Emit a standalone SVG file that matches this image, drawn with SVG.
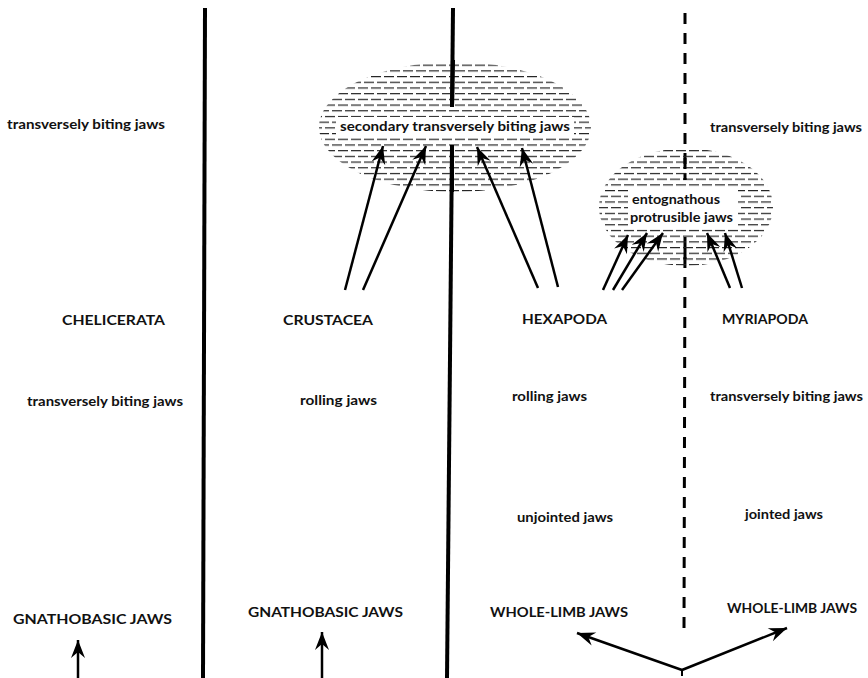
<svg xmlns="http://www.w3.org/2000/svg" width="868" height="678" viewBox="0 0 868 678">
<style>
text{font-family:"Lato","Liberation Sans",sans-serif;font-weight:bold;fill:#111}
.lc{font-size:12.5px}
.uc{font-size:14px}
.wall{stroke:#000;stroke-width:4;fill:none}
.dash{stroke:#000;stroke-width:3;fill:none;stroke-dasharray:11 9}
.arr{stroke:#000;stroke-width:2.5;fill:none;marker-end:url(#ah)}
.hatch{fill:url(#hp)}
.blank{fill:#fff}
</style>
<defs>
<pattern id="hp" patternUnits="userSpaceOnUse" width="26" height="11.4">
<path d="M0 2.5h10M13 2.5h10M0 8.2h4M7 8.2h10M20 8.2h6" stroke="#222" stroke-width="1.3"/>
</pattern>
<marker id="ah" markerUnits="userSpaceOnUse" viewBox="-19 -8 20 16" markerWidth="20" markerHeight="16" refX="0" refY="0" orient="auto">
<path d="M0,0 L-18,-7 L-12,0 L-18,7 z" fill="#000"/>
</marker>
</defs>

<g id="lines">
<path class="wall" d="M205 8 L203 678"/>
<path class="wall" d="M453 8 L452 107"/>
<path class="wall" d="M452 145 L447 678"/>
<path class="dash" d="M685 13 L685 180"/>
<path class="dash" d="M685 237 L684 630"/>
</g>

<g id="ellipse-secondary">
<ellipse class="hatch" cx="455" cy="127" rx="136" ry="65"/>
<rect class="blank" x="336" y="117" width="238" height="20"/>
<path class="wall" d="M453 60 L452 107"/>
<path class="wall" d="M452 145 L452 192"/>
<text class="lc" x="340" y="131" textLength="230" lengthAdjust="spacingAndGlyphs">secondary transversely biting jaws</text>
</g>

<g id="ellipse-entognathous">
<ellipse class="hatch" cx="686" cy="207" rx="87" ry="59"/>
<rect class="blank" x="628" y="189" width="110" height="38"/>
<path class="dash" d="M685 158 L685 180"/>
<path class="dash" d="M685 248 L685 262"/>
<text class="lc" x="632" y="204" textLength="88" lengthAdjust="spacingAndGlyphs">entognathous</text>
<text class="lc" x="630" y="222" textLength="103" lengthAdjust="spacingAndGlyphs">protrusible jaws</text>
</g>

<g id="top-left"><text class="lc" x="7" y="129" textLength="158" lengthAdjust="spacingAndGlyphs">transversely biting jaws</text></g>
<g id="top-right"><text class="lc" x="710" y="132" textLength="152" lengthAdjust="spacingAndGlyphs">transversely biting jaws</text></g>

<g id="chelicerata"><text class="uc" x="62" y="325" textLength="103" lengthAdjust="spacingAndGlyphs">CHELICERATA</text></g>
<g id="crustacea"><text class="uc" x="283" y="325" textLength="90" lengthAdjust="spacingAndGlyphs">CRUSTACEA</text></g>
<g id="hexapoda"><text class="uc" x="522" y="324" textLength="85" lengthAdjust="spacingAndGlyphs">HEXAPODA</text></g>
<g id="myriapoda"><text class="uc" x="722" y="324" textLength="86" lengthAdjust="spacingAndGlyphs">MYRIAPODA</text></g>

<g id="chel-jaws"><text class="lc" x="27" y="406" textLength="156" lengthAdjust="spacingAndGlyphs">transversely biting jaws</text></g>
<g id="crus-jaws"><text class="lc" x="300" y="405" textLength="77" lengthAdjust="spacingAndGlyphs">rolling jaws</text></g>
<g id="hexa-jaws"><text class="lc" x="512" y="401" textLength="75" lengthAdjust="spacingAndGlyphs">rolling jaws</text></g>
<g id="myri-jaws"><text class="lc" x="710" y="401" textLength="153" lengthAdjust="spacingAndGlyphs">transversely biting jaws</text></g>

<g id="unjointed"><text class="lc" x="517" y="522" textLength="96" lengthAdjust="spacingAndGlyphs">unjointed jaws</text></g>
<g id="jointed"><text class="lc" x="745" y="519" textLength="78" lengthAdjust="spacingAndGlyphs">jointed jaws</text></g>

<g id="gnatho-1"><text class="uc" x="13" y="624" textLength="159" lengthAdjust="spacingAndGlyphs">GNATHOBASIC JAWS</text></g>
<g id="gnatho-2"><text class="uc" x="248" y="617" textLength="155" lengthAdjust="spacingAndGlyphs">GNATHOBASIC JAWS</text></g>
<g id="wholelimb-1"><text class="uc" x="490" y="617" textLength="138" lengthAdjust="spacingAndGlyphs">WHOLE-LIMB JAWS</text></g>
<g id="wholelimb-2"><text class="uc" x="727" y="613" textLength="130" lengthAdjust="spacingAndGlyphs">WHOLE-LIMB JAWS</text></g>

<g id="connectors">
<path class="arr" d="M345 290 L383 146"/>
<path class="arr" d="M363 290 L426 146"/>
<path class="arr" d="M538 288 L477 147"/>
<path class="arr" d="M558 287 L522 148"/>
<path class="arr" d="M603 290 L628 235"/>
<path class="arr" d="M613 290 L647 233"/>
<path class="arr" d="M622 290 L663 233"/>
<path class="arr" d="M730 288 L707 233"/>
<path class="arr" d="M742 288 L725 233"/>
<path class="arr" d="M78 678 L78 640"/>
<path class="arr" d="M322 678 L322 632"/>
<path class="arr" d="M682 670 L577 633"/>
<path class="arr" d="M682 670 L787 628"/>
<path d="M682 669 L682 676" stroke="#000" stroke-width="2"/>
</g>
</svg>
